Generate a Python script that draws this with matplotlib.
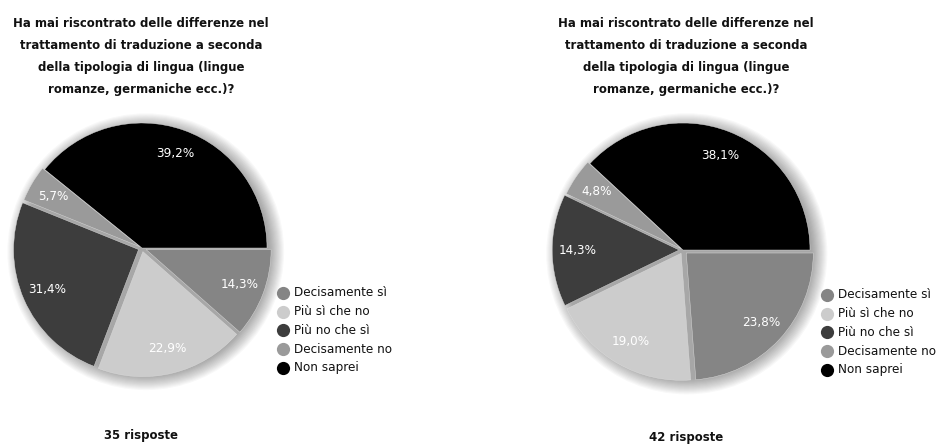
import numpy as np
import matplotlib.pyplot as plt
from matplotlib import font_manager
from matplotlib.lines import Line2D
from matplotlib.patches import Circle

# ---------------- dati ----------------
categories = ['Decisamente sì', 'Più sì che no', 'Più no che sì', 'Decisamente no', 'Non saprei']
colors = ['#858585', '#cccccc', '#3d3d3d', '#9a9a9a', '#000000']

title = ('Ha mai riscontrato delle differenze nel\n'
         'trattamento di traduzione a seconda\n'
         'della tipologia di lingua (lingue\n'
         'romanze, germaniche ecc.)?')

# grafico di sinistra: etichette stampate e ampiezza delle fette come disegnate
left_labels = ['14,3%', '22,9%', '31,4%', '5,7%', '39,2%']
left_shares = [11.5, 19.3, 25.3, 4.7, 39.2]
left_count = '35 risposte'

# grafico di destra
right_labels = ['23,8%', '19,0%', '14,3%', '4,8%', '38,1%']
right_shares = [23.8, 19.0, 14.3, 4.8, 38.1]
right_count = '42 risposte'
# ---------------------------------------

W, H = 939, 446
names = {f.name for f in font_manager.fontManager.ttflist}
if 'Liberation Sans Narrow' in names:
    FONT = ['Liberation Sans Narrow', 'DejaVu Sans']
    STRETCH = 'normal'
else:
    FONT = ['DejaVu Sans']
    STRETCH = 'condensed'
plt.rcParams['font.family'] = FONT
plt.rcParams['font.stretch'] = STRETCH

fig = plt.figure(figsize=(W / 100, H / 100), dpi=100)


def fx(x):
    return x / W


def fy(y):
    return 1 - y / H


def draw_block(cx, cy, r, shares, pct, count, tx, leg_x, leg_y, count_y):
    # titolo
    fig.text(fx(tx), fy(17), title, ha='center', va='top', fontsize=9.4,
             fontweight='bold', linespacing=1.9, color='#111111')

    ax = fig.add_axes([fx(cx - 1.3 * r), fy(cy + 1.3 * r), 2.6 * r / W, 2.6 * r / H])

    # ombra morbida
    for k in range(14):
        ax.add_patch(Circle((0.03, -0.03), 0.99 + 0.009 * k, color='black',
                            alpha=0.028, lw=0, zorder=0))

    # l'ordine della torta parte da "Non saprei" a ore 3 in senso antiorario
    order = [4, 3, 2, 1, 0]
    wedges, texts = ax.pie([shares[i] for i in order],
                           labels=[pct[i] for i in order],
                           colors=[colors[i] for i in order],
                           startangle=0, counterclock=True,
                           explode=[0, 0.02, 0.03, 0.03, 0.035],
                           labeldistance=0.8,
                           wedgeprops=dict(edgecolor='#dddddd', linewidth=0.3))
    for t in texts:
        t.set_ha('center')
        t.set_va('center')
        t.set_color('white')
        t.set_fontsize(9.6)
    ax.set_xlim(-1.3, 1.3)
    ax.set_ylim(-1.3, 1.3)
    ax.axis('off')

    # legenda
    for i, (lab, c) in enumerate(zip(categories, colors)):
        y = leg_y + i * 18.7
        fig.add_artist(Line2D([fx(leg_x)], [fy(y)], marker='o', markersize=9.5,
                              color=c, markeredgewidth=0, transform=fig.transFigure))
        fig.text(fx(leg_x + 11), fy(y), lab, ha='left', va='center',
                 fontsize=9.6, color='#111111')

    fig.text(fx(tx), fy(count_y), count, ha='center', va='center',
             fontsize=9.4, fontweight='bold', color='#111111')


draw_block(142, 248, 125, left_shares, left_labels, left_count, 141, 283, 293, 435)
draw_block(683, 250, 127, right_shares, right_labels, right_count, 686, 827, 295, 437)

plt.savefig('out.png', dpi=100)
